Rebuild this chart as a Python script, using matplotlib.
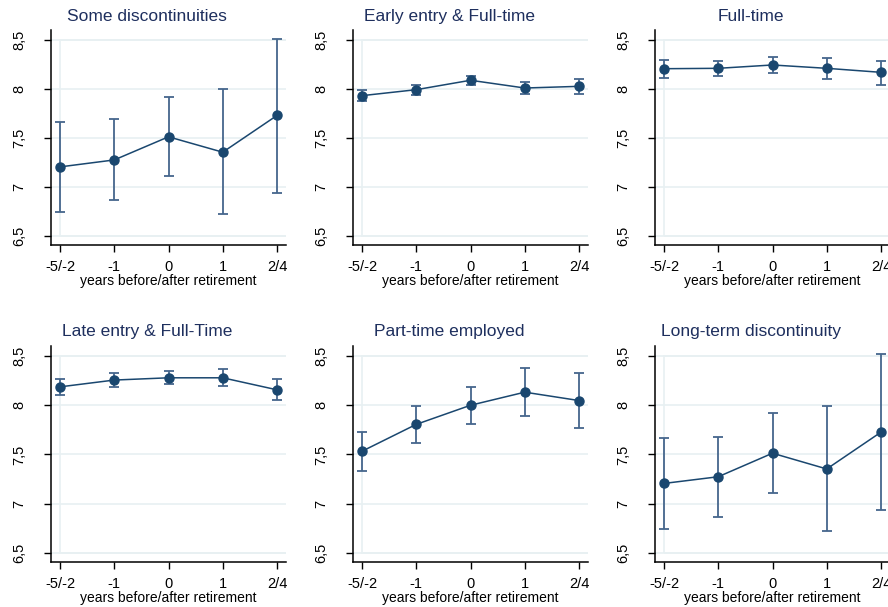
import matplotlib.pyplot as plt
from matplotlib.patches import Rectangle

plt.rcParams['font.family'] = ['Liberation Sans', 'DejaVu Sans']

periods = ["-5/-2", "-1", "0", "1", "2/4"]
titles = ["Some discontinuities", "Early entry & Full-time", "Full-time",
          "Late entry & Full-Time", "Part-time employed", "Long-term discontinuity"]

some_disc = [7.205, 7.276, 7.512, 7.355, 7.730]
some_disc_lo = [6.747, 6.867, 7.109, 6.724, 6.939]
some_disc_hi = [7.662, 7.689, 7.922, 7.997, 8.515]

early_ft = [7.932, 7.993, 8.089, 8.010, 8.027]
early_ft_lo = [7.877, 7.942, 8.041, 7.949, 7.952]
early_ft_hi = [7.986, 8.041, 8.133, 8.075, 8.099]

full_time = [8.207, 8.211, 8.245, 8.211, 8.170]
full_time_lo = [8.116, 8.133, 8.167, 8.105, 8.044]
full_time_hi = [8.296, 8.286, 8.327, 8.313, 8.286]

late_ft = [8.187, 8.256, 8.279, 8.279, 8.157]
late_ft_lo = [8.106, 8.184, 8.211, 8.191, 8.051]
late_ft_hi = [8.269, 8.324, 8.351, 8.368, 8.269]

part_time = [7.533, 7.806, 8.000, 8.133, 8.048]
part_time_lo = [7.332, 7.618, 7.813, 7.894, 7.765]
part_time_hi = [7.731, 7.993, 8.187, 8.375, 8.330]

long_disc = [7.206, 7.274, 7.513, 7.353, 7.727]
long_disc_lo = [6.746, 6.869, 7.107, 6.722, 6.937]
long_disc_hi = [7.666, 7.680, 7.918, 7.990, 8.518]

series = [
    (some_disc, some_disc_lo, some_disc_hi),
    (early_ft, early_ft_lo, early_ft_hi),
    (full_time, full_time_lo, full_time_hi),
    (late_ft, late_ft_lo, late_ft_hi),
    (part_time, part_time_lo, part_time_hi),
    (long_disc, long_disc_lo, long_disc_hi),
]

yticks = [6.5, 7, 7.5, 8, 8.5]
ylabels = ["6,5", "7", "7,5", "8", "8,5"]

navy = "#1a476f"
ci_col = "#45668c"
grid_col = "#e8f0f2"
title_col = "#1e2f5e"

fig = plt.figure(figsize=(8.88, 6.07), dpi=100)

lefts = [51, 353, 655]
rows = [(30, 245), (346, 562)]
W, H = 888, 607

for i, (vals, lo, hi) in enumerate(series):
    r, c = divmod(i, 3)
    top, bot = rows[r]
    ax = fig.add_axes([lefts[c] / W, 1 - bot / H, 235 / W, (bot - top) / H])
    x = list(range(len(periods)))

    for y in yticks:
        ax.axhline(y, color=grid_col, lw=1.2, zorder=0)
    ax.add_patch(Rectangle((0, 6.5), 4.3, 2.0, fill=False, ec=grid_col, lw=1.2, zorder=0))

    yerr = [[v - l for v, l in zip(vals, lo)], [h - v for v, h in zip(vals, hi)]]
    ax.errorbar(x, vals, yerr=yerr, fmt="none", ecolor=ci_col, elinewidth=1.3,
                capsize=3.5, capthick=1.3, zorder=2)
    ax.plot(x, vals, color=navy, lw=1.1, marker="o", ms=6.5, zorder=3)

    ax.set_xlim(-0.166, 4.166)
    ax.set_ylim(6.408, 8.602)
    ax.set_xticks(x)
    ax.set_xticklabels(periods, fontsize=10.5)
    ax.set_yticks(yticks)
    ax.set_yticklabels(ylabels, fontsize=10.5, rotation=90, va="center")
    ax.tick_params(direction="out", length=5, width=1, color="black")
    ax.tick_params(axis="x", pad=6)
    ax.tick_params(axis="y", pad=13)
    ax.set_xlabel("years before/after retirement", fontsize=10, labelpad=0)
    for s in ["top", "right"]:
        ax.spines[s].set_visible(False)
    for s in ["left", "bottom"]:
        ax.spines[s].set_linewidth(1.1)
    ax.text(0.41, 1.065, titles[i], transform=ax.transAxes, ha="center",
            va="center", fontsize=12.5, color=title_col)

fig.savefig("out.png", dpi=100)
